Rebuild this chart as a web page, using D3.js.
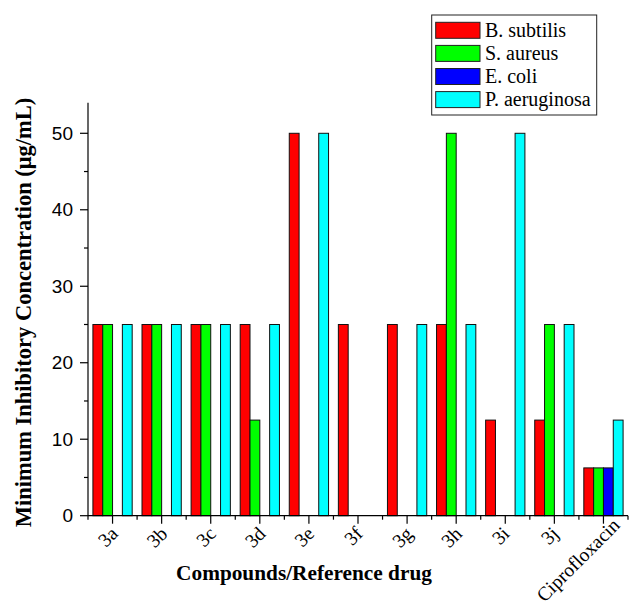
<!DOCTYPE html>
<html><head><meta charset="utf-8">
<script src="https://cdn.jsdelivr.net/npm/d3@7"></script>
<style>body{margin:0;background:#fff}</style>
</head><body>
<svg id="c" width="629" height="608"></svg>
<script>
const categories = ["3a","3b","3c","3d","3e","3f","3g","3h","3i","3j","Ciprofloxacin"];
const seriesNames = ["B. subtilis","S. aureus","E. coli","P. aeruginosa"];
const seriesColors = ["#ff0000","#00ff00","#0000ff","#00ffff"];
const bSubtilis   = [25,25,25,25,50,25,25,25,12.5,12.5,6.25];
const sAureus     = [25,25,25,12.5,0,0,0,50,0,25,6.25];
const eColi       = [0,0,0,0,0,0,0,0,0,0,6.25];
const pAeruginosa = [25,25,25,25,50,0,25,25,50,25,12.5];
const yMajorTicks = [0,10,20,30,40,50];
const yMinorTicks = [5,15,25,35,45];
const allSeries = [bSubtilis,sAureus,eColi,pAeruginosa];

const svg = d3.select("#c");
const x0 = 88, x1 = 628, yBottom = 515.7, yTop = 102.7;
const x = d3.scaleBand().domain(categories).range([x0,x1]).paddingInner(0.2).paddingOuter(0.1);
const xs = d3.scaleBand().domain(seriesNames).range([0,x.bandwidth()]);
const y = d3.scaleLinear().domain([0,54]).range([yBottom,yTop]);

// bars
categories.forEach((c,i)=>{
  seriesNames.forEach((s,j)=>{
    const v = allSeries[j][i];
    if(v<=0) return;
    svg.append("rect")
      .attr("x", x(c)+xs(s)).attr("y", y(v))
      .attr("width", xs.bandwidth()).attr("height", y(0)-y(v))
      .attr("fill", seriesColors[j]).attr("stroke","#111").attr("stroke-width",1);
  });
});

// axes lines
const ax = svg.append("g").attr("stroke","#000").attr("stroke-width",1.2);
ax.append("line").attr("x1",x0).attr("x2",x1).attr("y1",y(0)).attr("y2",y(0));
ax.append("line").attr("x1",x0).attr("x2",x0).attr("y1",y(0)).attr("y2",y(54));
yMajorTicks.forEach(t=>ax.append("line").attr("x1",x0-8).attr("x2",x0).attr("y1",y(t)).attr("y2",y(t)));
yMinorTicks.forEach(t=>ax.append("line").attr("x1",x0-4).attr("x2",x0).attr("y1",y(t)).attr("y2",y(t)));
categories.forEach(c=>{
  const cx = x(c)+x.bandwidth()/2;
  ax.append("line").attr("x1",cx).attr("x2",cx).attr("y1",y(0)).attr("y2",y(0)+8);
});
const step = x.step();
for(let k=0;k<=categories.length;k++){
  const bx = x0 + k*step;
  ax.append("line").attr("x1",bx).attr("x2",bx).attr("y1",y(0)).attr("y2",y(0)+4);
}

// y tick labels
svg.append("g").selectAll("text").data(yMajorTicks).join("text")
  .attr("x", x0-15).attr("y", d=>y(d)).attr("dy","0.35em")
  .attr("text-anchor","end").attr("font-family","Liberation Sans, Arial, sans-serif")
  .attr("font-size",19).text(d=>d);

// x tick labels rotated
const xl = svg.append("g");
categories.forEach(c=>{
  const cx = x(c)+x.bandwidth()/2;
  const t = xl.append("text").attr("font-family","Liberation Serif, Times New Roman, serif")
    .attr("font-size",19.5).attr("text-anchor","end").text(c);
  const L = t.node().getComputedTextLength();
  let px = cx + L/(2*Math.SQRT2);
  px = Math.min(px, 621);
  const py = Math.min(535, 603 - L/Math.SQRT2);
  t.attr("transform",`translate(${px},${py}) rotate(-45)`);
});

// axis titles
svg.append("text").attr("x",304).attr("y",580).attr("text-anchor","middle")
  .attr("font-family","Liberation Serif, Times New Roman, serif").attr("font-weight","bold")
  .attr("font-size",21.3).text("Compounds/Reference drug");
svg.append("text").attr("transform","translate(31,312.5) rotate(-90)").attr("text-anchor","middle")
  .attr("font-family","Liberation Serif, Times New Roman, serif").attr("font-weight","bold")
  .attr("font-size",22.5).text("Minimum Inhibitory Concentration (μg/mL)");

// legend
const lg = svg.append("g");
lg.append("rect").attr("x",431.7).attr("y",15).attr("width",165).attr("height",100)
  .attr("fill","#fff").attr("stroke","#222").attr("stroke-width",1);
seriesNames.forEach((s,j)=>{
  const ry = 22.3 + j*23.1;
  lg.append("rect").attr("x",435.7).attr("y",ry).attr("width",44.3).attr("height",16)
    .attr("fill",seriesColors[j]).attr("stroke","#222").attr("stroke-width",1);
  lg.append("text").attr("x",485).attr("y",ry+14.5).attr("font-family","Liberation Serif, Times New Roman, serif")
    .attr("font-size",20).text(s);
});
</script>
</body></html>
